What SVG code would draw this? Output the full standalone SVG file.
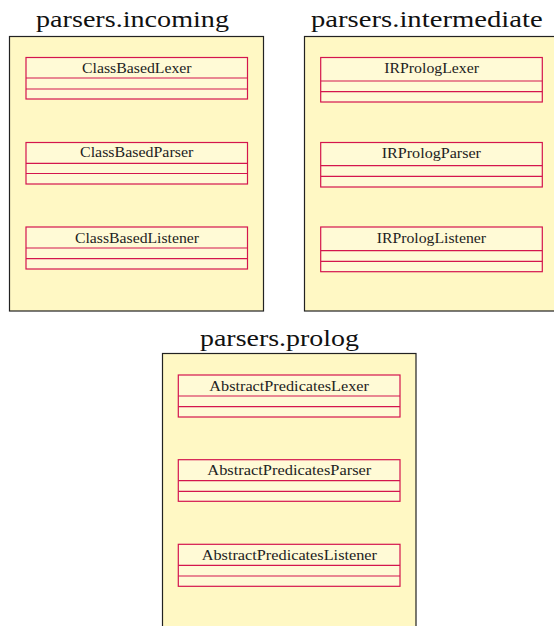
<svg xmlns="http://www.w3.org/2000/svg" width="554" height="626" viewBox="0 0 554 626">
<style>
.pkg{fill:#fff8c4;stroke:#222;stroke-width:1.2}
.cls{fill:#fffad6;stroke:#d4154e;stroke-width:1.2}
.sep{stroke:#d4154e;stroke-width:1.2;fill:none}
.title{font-family:"Liberation Serif","DejaVu Serif",serif;font-size:24px;fill:#111}
.name{font-family:"Liberation Serif","DejaVu Serif",serif;font-size:14px;fill:#222}
</style>
<rect width="554" height="626" fill="#fff"/>
<g id="pkg-incoming">
<text class="title" x="36" y="27" textLength="193" lengthAdjust="spacingAndGlyphs">parsers.incoming</text>
<rect class="pkg" x="9.5" y="36.5" width="254" height="274.5"/>
</g>
<g id="pkg-intermediate">
<text class="title" x="311" y="27" textLength="231.7" lengthAdjust="spacingAndGlyphs">parsers.intermediate</text>
<rect class="pkg" x="304.5" y="36.5" width="260" height="274.5"/>
</g>
<g id="pkg-prolog">
<text class="title" x="200" y="346" textLength="159" lengthAdjust="spacingAndGlyphs">parsers.prolog</text>
<rect class="pkg" x="162.5" y="353.5" width="253.5" height="290"/>
</g>
<g id="ClassBasedLexer">
<rect class="cls" x="26" y="57.5" width="221.5" height="41.5"/>
<path class="sep" d="M26 78H247.5M26 89H247.5"/>
<text class="name" x="82" y="72.7" textLength="109.6" lengthAdjust="spacingAndGlyphs">ClassBasedLexer</text>
</g>
<g id="ClassBasedParser">
<rect class="cls" x="26" y="142.5" width="221.5" height="41.5"/>
<path class="sep" d="M26 163.3H247.5M26 173.5H247.5"/>
<text class="name" x="80" y="157.3" textLength="113.3" lengthAdjust="spacingAndGlyphs">ClassBasedParser</text>
</g>
<g id="ClassBasedListener">
<rect class="cls" x="26" y="227" width="221.5" height="42"/>
<path class="sep" d="M26 248H247.5M26 258.7H247.5"/>
<text class="name" x="75" y="242.7" textLength="124" lengthAdjust="spacingAndGlyphs">ClassBasedListener</text>
</g>
<g id="IRPrologLexer">
<rect class="cls" x="320.7" y="57.5" width="221.6" height="44.5"/>
<path class="sep" d="M320.7 81H542.3M320.7 91.7H542.3"/>
<text class="name" x="384.3" y="72.7" textLength="94.7" lengthAdjust="spacingAndGlyphs">IRPrologLexer</text>
</g>
<g id="IRPrologParser">
<rect class="cls" x="320.7" y="142.5" width="221.6" height="44.5"/>
<path class="sep" d="M320.7 165.7H542.3M320.7 176.3H542.3"/>
<text class="name" x="381.7" y="157.7" textLength="99.3" lengthAdjust="spacingAndGlyphs">IRPrologParser</text>
</g>
<g id="IRPrologListener">
<rect class="cls" x="320.7" y="227" width="221.6" height="44.7"/>
<path class="sep" d="M320.7 250.7H542.3M320.7 261.3H542.3"/>
<text class="name" x="376.7" y="242.7" textLength="109.3" lengthAdjust="spacingAndGlyphs">IRPrologListener</text>
</g>
<g id="AbstractPredicatesLexer">
<rect class="cls" x="178.3" y="375" width="221.7" height="42"/>
<path class="sep" d="M178.3 396H400M178.3 406.7H400"/>
<text class="name" x="209.3" y="390.7" textLength="159.7" lengthAdjust="spacingAndGlyphs">AbstractPredicatesLexer</text>
</g>
<g id="AbstractPredicatesParser">
<rect class="cls" x="178.3" y="459.7" width="221.7" height="41.6"/>
<path class="sep" d="M178.3 480.7H400M178.3 491.3H400"/>
<text class="name" x="207.3" y="475" textLength="164" lengthAdjust="spacingAndGlyphs">AbstractPredicatesParser</text>
</g>
<g id="AbstractPredicatesListener">
<rect class="cls" x="178.3" y="544.3" width="221.7" height="42"/>
<path class="sep" d="M178.3 565.3H400M178.3 576H400"/>
<text class="name" x="201.7" y="560" textLength="175.3" lengthAdjust="spacingAndGlyphs">AbstractPredicatesListener</text>
</g>
<g id="connectors"/>
</svg>
